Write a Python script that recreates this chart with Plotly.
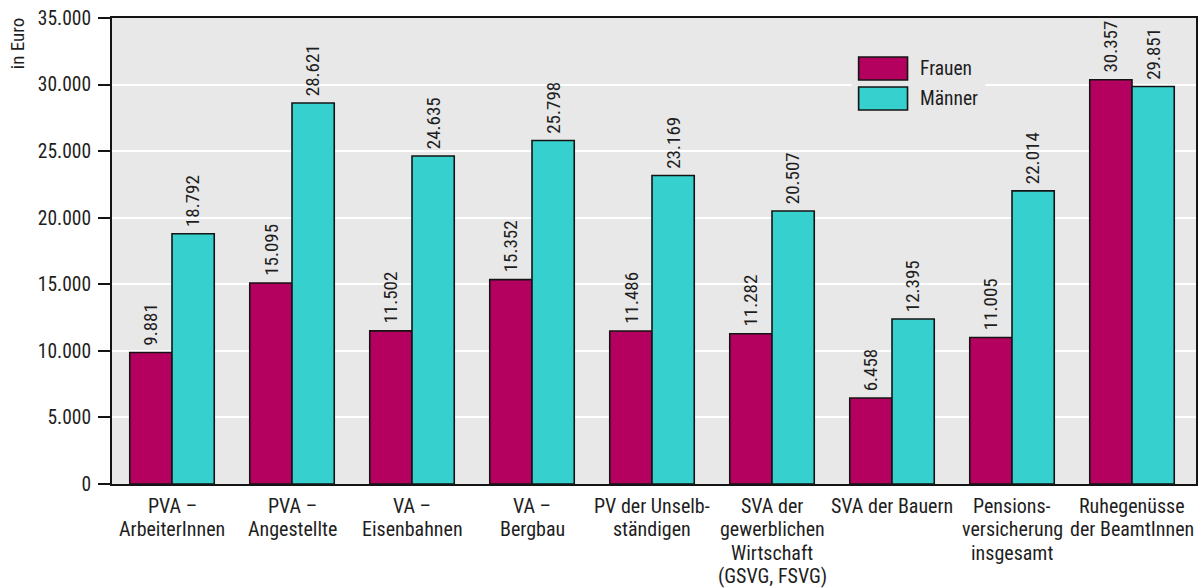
import plotly.graph_objects as go

categories = [
    "PVA –<br>ArbeiterInnen",
    "PVA –<br>Angestellte",
    "VA –<br>Eisenbahnen",
    "VA –<br>Bergbau",
    "PV der Unselb-<br>ständigen",
    "SVA der<br>gewerblichen<br>Wirtschaft<br>(GSVG, FSVG)",
    "SVA der Bauern",
    "Pensions-<br>versicherung<br>insgesamt",
    "Ruhegenüsse<br>der BeamtInnen",
]
frauen = [9881, 15095, 11502, 15352, 11486, 11282, 6458, 11005, 30357]
maenner = [18792, 28621, 24635, 25798, 23169, 20507, 12395, 22014, 29851]
series_names = ["Frauen", "Männer"]
colors = ["#B4005F", "#36D0CE"]
y_ticks = [0, 5000, 10000, 15000, 20000, 25000, 30000, 35000]

FONT = "Roboto Condensed, Liberation Sans Narrow, Arial Narrow, sans-serif"
BG = "#E8E8E8"
TXT = "#1E1E1E"

# pixel geometry helpers (plot area: x 112..1198, y 18..484)
L, R, T, B = 112, 1198, 18, 484
def px_x(p):
    return (p - L) / (R - L)

def px_y(p):
    return (B - p) / (B - T)

fig = go.Figure()
for name, vals, col in zip(series_names, [frauen, maenner], colors):
    fig.add_trace(go.Bar(
        x=categories, y=vals, name=name,
        marker=dict(color=col, line=dict(color="#141414", width=1.6)),
        showlegend=False,
    ))

fig.update_layout(
    width=1201, height=588,
    margin=dict(l=L, r=1201 - R, t=T, b=588 - B),
    paper_bgcolor="white", plot_bgcolor=BG,
    separators=",.",
    barmode="group", bargap=0.296, bargroupgap=0,
    font=dict(family=FONT, size=19, color=TXT),
)
fig.update_xaxes(
    showline=True, linecolor="#141414", linewidth=2, mirror=True,
    ticks="", showgrid=False, showticklabels=False,
)
fig.update_yaxes(
    range=[0, 35000], tickvals=y_ticks, tickformat=",d",
    showline=True, linecolor="#141414", linewidth=2, mirror=True,
    ticks="outside", ticklen=12, tickwidth=2, tickcolor="#141414",
    ticklabelstandoff=3,
    showgrid=True, gridcolor="white", gridwidth=1.5, zeroline=False,
    tickfont=dict(size=19.5, color=TXT),
)

# value labels (rotated) above each bar
half_bar = (R - L) / len(categories) * (1 - 0.296) / 4
for vals, shift in [(frauen, -half_bar), (maenner, half_bar)]:
    for cat, v in zip(categories, vals):
        fig.add_annotation(
            x=cat, y=v, xref="x", yref="y", text=f"{v:,}".replace(",", "."),
            textangle=-90, xanchor="center", yanchor="bottom", xshift=shift, yshift=5,
            showarrow=False, font=dict(size=19, color=TXT),
        )

# category labels, one annotation per line for tight line spacing
for cat in categories:
    for k, line in enumerate(cat.split("<br>")):
        fig.add_annotation(
            x=cat, y=0, xref="x", yref="paper", text=line,
            xanchor="center", yanchor="middle", yshift=-22 - 23.3 * k,
            showarrow=False, font=dict(size=20, color=TXT),
        )

# y-axis title
fig.add_annotation(text="in Euro", xref="paper", yref="paper",
                   x=px_x(18), y=px_y(43), xanchor="center", yanchor="middle",
                   textangle=-90, showarrow=False, font=dict(size=19, color=TXT))

# legend (drawn manually for large swatches)
fig.add_shape(type="rect", xref="paper", yref="paper",
              x0=px_x(853), x1=px_x(987), y0=px_y(114), y1=px_y(52),
              fillcolor=BG, line=dict(width=0), layer="above")
for i, (name, col) in enumerate(zip(series_names, colors)):
    top = 57 + i * 30
    fig.add_shape(type="rect", xref="paper", yref="paper",
                  x0=px_x(860), x1=px_x(909), y0=px_y(top + 23), y1=px_y(top),
                  fillcolor=col, line=dict(color="#141414", width=1.6), layer="above")
    fig.add_annotation(text=name, xref="paper", yref="paper",
                       x=px_x(919), y=px_y(top + 11.5), xanchor="left", yanchor="middle",
                       showarrow=False, font=dict(size=19.5, color=TXT))

fig.write_html("out.html", config={"displayModeBar": False},
               post_script="document.body.style.margin='0';")
